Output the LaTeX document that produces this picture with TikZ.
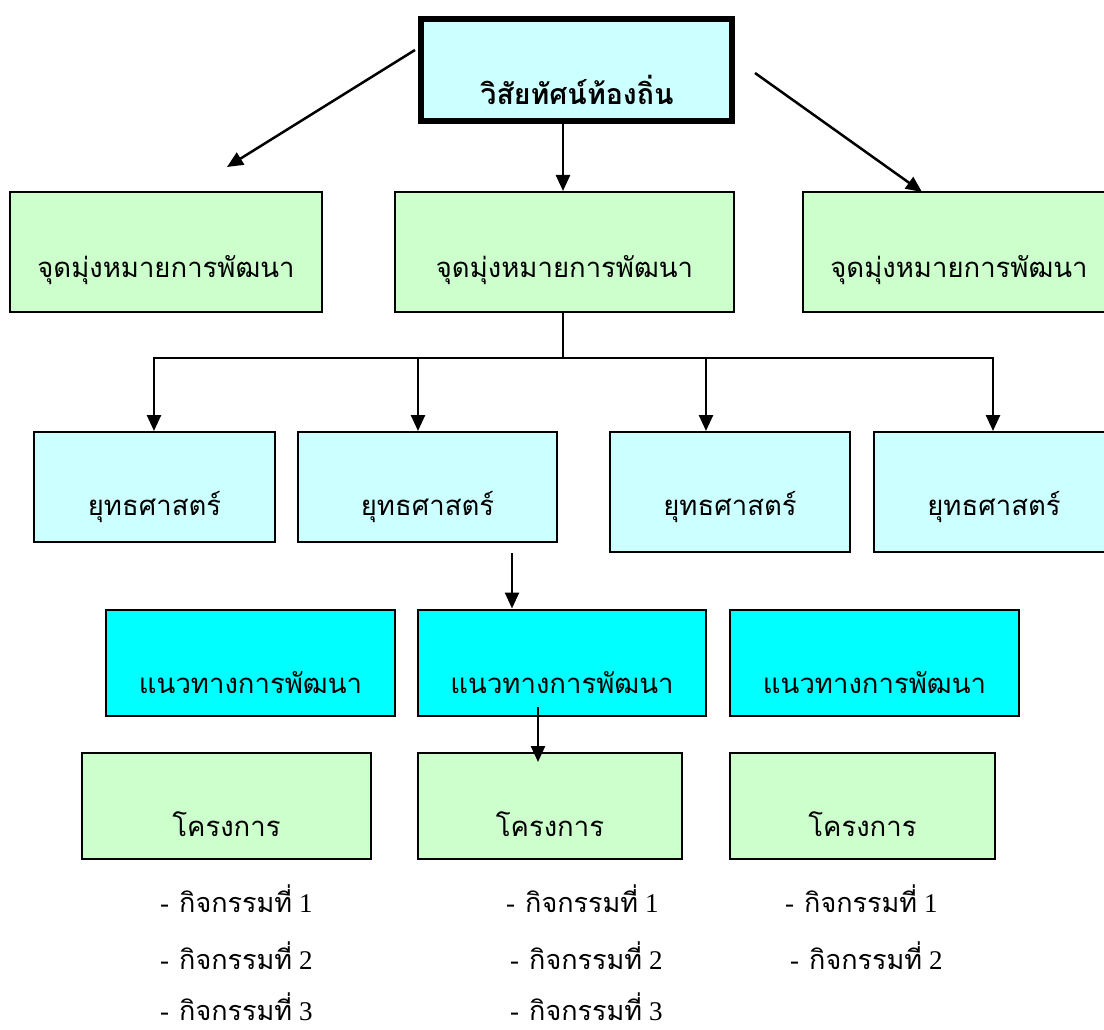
\documentclass[tikz,border=0pt]{standalone}
\usepackage{fontspec}
\setmainfont{Liberation Serif}
\newfontfamily\thai[Script=Thai]{Loma}
\usetikzlibrary{arrows.meta}
\definecolor{lgreen}{HTML}{CCFFCC}
\definecolor{lcyan}{HTML}{CCFFFF}
\definecolor{aqua}{HTML}{00FFFF}
\tikzset{
  box/.style={draw=black, line width=2pt, rectangle, inner sep=0pt},
  gbox/.style={box, fill=lgreen},
  cbox/.style={box, fill=lcyan},
  abox/.style={box, fill=aqua},
  topbox/.style={draw=black, line width=6pt, fill=lcyan, rectangle, inner sep=0pt},
  lbl/.style={anchor=base, inner sep=0pt, font=\thai\fontsize{27.5}{32}\selectfont},
  toplbl/.style={anchor=base, inner sep=0pt, font=\thai\bfseries\fontsize{28.5}{32}\selectfont},
  item/.style={anchor=base west, inner sep=0pt, font=\fontsize{27}{32}\selectfont},
  arr/.style={line width=2.5pt, -{Triangle[width=14pt,length=16pt]}},
  ln/.style={line width=2.5pt}
}
\begin{document}
\begin{tikzpicture}[x=1pt,y=-1pt]
\useasboundingbox (0,0) rectangle (1104,1030);
% top
\node[topbox, minimum width=311, minimum height=102] (tb) at (576,70) {};
\node[toplbl] (tbt) at (577,105) {วิสัยทัศน์ท้องถิ่น};
% row 1
\node[gbox, minimum width=312, minimum height=120] (g1) at (166,252) {};
\node[gbox, minimum width=339, minimum height=120] (g2) at (564.5,252) {};
\node[gbox, minimum width=312, minimum height=120] (g3) at (959,252) {};
\node[lbl] (g1t) at (166,277) {จุดมุ่งหมายการพัฒนา};
\node[lbl] (g2t) at (564.5,277) {จุดมุ่งหมายการพัฒนา};
\node[lbl] (g3t) at (959,277) {จุดมุ่งหมายการพัฒนา};
% row 2
\node[cbox, minimum width=241, minimum height=110] (s1) at (154.5,487) {};
\node[cbox, minimum width=259, minimum height=110] (s2) at (427.5,487) {};
\node[cbox, minimum width=240, minimum height=120] (s3) at (730,492) {};
\node[cbox, minimum width=240, minimum height=120] (s4) at (994,492) {};
\node[lbl] (s1t) at (154.5,515) {ยุทธศาสตร์};
\node[lbl] (s2t) at (427.5,515) {ยุทธศาสตร์};
\node[lbl] (s3t) at (730,515) {ยุทธศาสตร์};
\node[lbl] (s4t) at (994,515) {ยุทธศาสตร์};
% row 3
\node[abox, minimum width=289, minimum height=106] (r1) at (250.5,662.5) {};
\node[abox, minimum width=288, minimum height=106] (r2) at (562,662.5) {};
\node[abox, minimum width=289, minimum height=106] (r3) at (874.5,662.5) {};
\node[lbl] (r1t) at (250.5,693) {แนวทางการพัฒนา};
\node[lbl] (r2t) at (562,693) {แนวทางการพัฒนา};
\node[lbl] (r3t) at (874.5,693) {แนวทางการพัฒนา};
% row 4
\node[gbox, minimum width=289, minimum height=106] (p1) at (226.5,806) {};
\node[gbox, minimum width=264, minimum height=106] (p2) at (550,806) {};
\node[gbox, minimum width=265, minimum height=106] (p3) at (862.5,806) {};
\node[lbl] (p1t) at (226.5,836) {โครงการ};
\node[lbl] (p2t) at (550,836) {โครงการ};
\node[lbl] (p3t) at (862.5,836) {โครงการ};
% lists
\node[item] (a11) at (160,912) {-\hspace{10pt}{\thai กิจกรรมที่} 1};
\node[item] (a12) at (160,969) {-\hspace{10pt}{\thai กิจกรรมที่} 2};
\node[item] (a13) at (160,1020) {-\hspace{10pt}{\thai กิจกรรมที่} 3};
\node[item] (a21) at (506,912) {-\hspace{10pt}{\thai กิจกรรมที่} 1};
\node[item] (a22) at (510,969) {-\hspace{10pt}{\thai กิจกรรมที่} 2};
\node[item] (a23) at (510,1020) {-\hspace{10pt}{\thai กิจกรรมที่} 3};
\node[item] (a31) at (785,912) {-\hspace{10pt}{\thai กิจกรรมที่} 1};
\node[item] (a32) at (790,969) {-\hspace{10pt}{\thai กิจกรรมที่} 2};
% connectors
\coordinate (lstart) at (415,50);
\coordinate (lend) at (227,167);
\coordinate (rstart) at (755,73);
\coordinate (rend) at (922,192);
\draw[arr] (lstart) -- (lend);
\draw[arr] (rstart) -- (rend);
\draw[arr] (tb.south -| 563,0) -- (g2.north -| 563,0);
\coordinate (hub) at (563,358);
\coordinate (b1) at (154,358);
\coordinate (b2) at (418,358);
\coordinate (b3) at (706,358);
\coordinate (b4) at (993,358);
\draw[ln] (g2.south -| hub) -- (hub);
\draw[ln, line cap=rect] (b1) -- (b4);
\draw[arr] (b1) -- (b1 |- s1.north);
\draw[arr] (b2) -- (b2 |- s2.north);
\draw[arr] (b3) -- (b3 |- s3.north);
\draw[arr] (b4) -- (b4 |- s4.north);
\coordinate (c1) at (512,553);
\draw[arr] (c1) -- (c1 |- r2.north);
\coordinate (c2) at (538,707);
\coordinate (c3) at (538,762);
\draw[arr] (c2) -- (c3);
\end{tikzpicture}
\end{document}
